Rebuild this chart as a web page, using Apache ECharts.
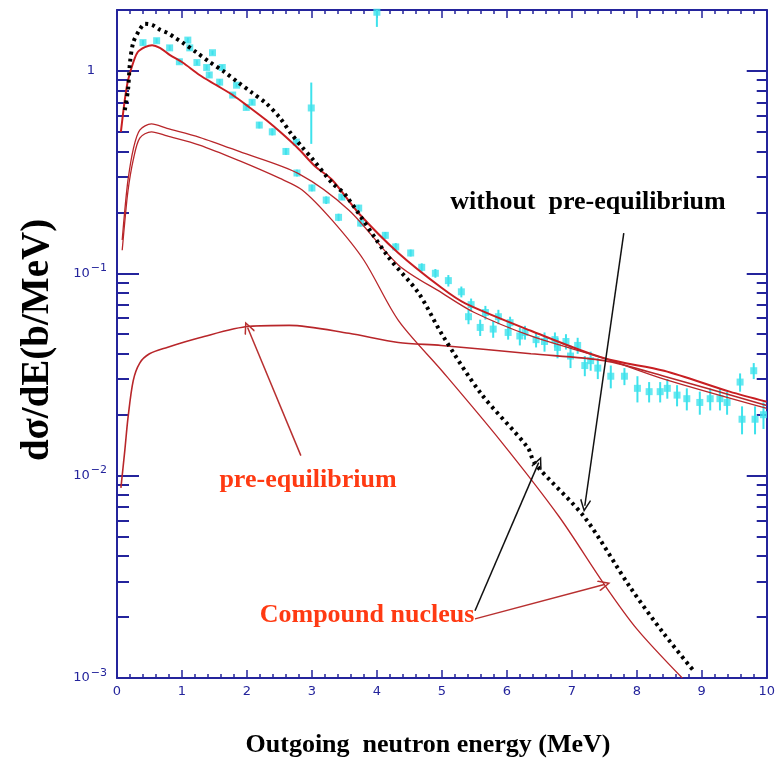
<!DOCTYPE html>
<html>
<head>
<meta charset="utf-8">
<script src="https://cdn.jsdelivr.net/npm/echarts@6/dist/echarts.min.js"></script>
<style>html,body{margin:0;background:#fff}#chart{width:778px;height:761px}</style>
</head>
<body>
<div id="chart"></div>
<script>
// measured cyan data (E in MeV, dsigma/dE in b/MeV, error)
const cyanE = [0.40,0.61,0.81,0.96,1.09,1.12,1.23,1.38,1.42,1.47,1.58,1.62,1.78,1.84,1.99,2.08,2.19,2.39,2.60,2.76,
  2.77,3.00,3.22,3.41,3.46,3.72,3.75,4.13,4.29,4.52,4.69,4.90,
  5.10,5.30,5.41,5.45,5.59,5.67,5.79,5.87,6.02,6.05,6.20,6.28,6.45,6.58,6.74,6.78,6.91,6.98,
  7.09,7.20,7.29,7.40,7.60,7.81,8.01,8.19,8.36,8.47,8.62,8.77,8.97,9.13,9.28,9.39,9.59,9.62,9.80,9.82,9.95,
  2.99,4.00];
const cyanV = [1.38,1.41,1.30,1.11,1.42,1.30,1.10,1.04,0.955,1.23,0.88,1.04,0.76,0.85,0.66,0.70,0.54,0.50,0.40,0.445,
  0.313,0.264,0.230,0.189,0.238,0.210,0.177,0.154,0.135,0.126,0.107,0.100,
  0.092,0.081,0.061,0.070,0.054,0.064,0.053,0.061,0.051,0.057,0.049,0.051,0.047,0.046,0.047,0.043,0.046,0.039,
  0.044,0.035,0.037,0.034,0.031,0.031,0.027,0.026,0.026,0.027,0.025,0.024,0.023,0.024,0.024,0.023,0.029,0.019,0.033,0.019,0.020,
  0.656,1.95];
const cyanErr = [0.04,0.04,0.04,0.03,0.04,0.04,0.03,0.03,0.03,0.03,0.03,0.03,0.02,0.02,0.02,0.02,0.02,0.02,0.015,0.015,
  0.012,0.01,0.01,0.008,0.008,0.008,0.007,0.006,0.006,0.005,0.005,0.005,
  0.006,0.005,0.005,0.005,0.005,0.005,0.005,0.005,0.004,0.004,0.005,0.004,0.004,0.005,0.004,0.005,0.004,0.005,
  0.004,0.004,0.004,0.004,0.004,0.003,0.004,0.003,0.003,0.003,0.003,0.003,0.003,0.003,0.003,0.003,0.003,0.003,0.003,0.003,0.003,
  0.22,0.3];

// calculation without pre-equilibrium (black dotted)
const noPreE = [0.12,0.17,0.20,0.25,0.34,0.43,0.54,0.66,0.78,0.89,1.01,1.23,1.42,1.65,1.88,2.08,2.30,2.50,2.68,2.85,3.00,3.31,3.52,4.18,4.64,5.00,5.60,6.32,6.43,7.20,7.90,8.42,8.88];
const noPreV = [0.64,0.81,1.10,1.38,1.58,1.71,1.69,1.60,1.54,1.46,1.38,1.23,1.11,0.99,0.87,0.78,0.69,0.59,0.49,0.42,0.37,0.28,0.243,0.12,0.08,0.05,0.0255,0.0138,0.0115,0.0062,0.0028,0.00165,0.00108];

// total calculation (red)
const totalE = [0.06,0.12,0.17,0.25,0.32,0.43,0.54,0.66,0.81,1.01,1.27,1.53,1.78,2.04,2.30,2.54,2.80,3.06,3.31,3.72,4.33,4.99,5.36,6.37,7.50,8.42,9.43,10];
const totalV = [0.50,0.72,0.90,1.10,1.24,1.31,1.34,1.30,1.20,1.10,0.955,0.85,0.76,0.66,0.57,0.49,0.41,0.335,0.29,0.198,0.126,0.085,0.071,0.052,0.038,0.033,0.026,0.0232];

// upper of the two lower curves
const sumE = [0.08,0.12,0.17,0.25,0.35,0.53,0.77,1.27,1.88,2.80,3.57,4.33,5.00,5.50,6.37,7.50,8.42,10];
const sumV = [0.146,0.205,0.29,0.41,0.51,0.547,0.52,0.47,0.40,0.31,0.205,0.11,0.080,0.064,0.049,0.038,0.030,0.0215];

// compound nucleus
const cnE = [0.08,0.12,0.17,0.25,0.35,0.53,0.77,1.27,1.88,2.50,2.85,3.31,3.80,4.33,5.00,5.90,6.80,7.50,8.00,8.70];
const cnV = [0.13,0.18,0.257,0.363,0.466,0.50,0.477,0.43,0.36,0.295,0.258,0.183,0.116,0.0585,0.033,0.0149,0.0063,0.0029,0.00175,0.001];

// pre-equilibrium
const preE = [0.06,0.12,0.17,0.25,0.35,0.50,0.77,1.27,2.04,2.65,3.57,4.33,4.99,6.37,7.50,8.42,10];
const preV = [0.0087,0.0133,0.0194,0.0295,0.036,0.040,0.043,0.048,0.0547,0.0553,0.0505,0.0455,0.044,0.040,0.037,0.031,0.0222];

// annotation arrows [from, to] in data coordinates
const blackArrows = [[[7.80,0.158],[7.20,0.0071]], [[5.51,0.00215],[6.49,0.0116]]];
const redArrows = [[[5.51,0.00196],[7.50,0.0029]], [[2.83,0.01256],[2.01,0.054]]];

const yMinor = [];
for (let d = -3; d <= 0; d++) for (let k = 2; k <= 9; k++) if (k * Math.pow(10, d) <= 2) yMinor.push(k * Math.pow(10, d));

const blue = '#24249c';
const cyan = '#3ee2ec';
const darkRed = '#b8262a';
const textRed = '#ff3a12';
const serif = '"Liberation Serif", "Times New Roman", serif';
const arrowHead = 'path://M5,0L10,9L9,10L5,2.6L1,10L0,9Z';

const zip = (a, b) => a.map((x, i) => [x, b[i]]);

const myChart = echarts.init(document.getElementById('chart'));

const xBase = {
  type: 'value', min: 0, max: 10, interval: 1,
  splitLine: { show: false },
  axisLine: { onZero: false, lineStyle: { color: blue, width: 2 } },
  axisTick: { inside: true, length: 8, lineStyle: { color: blue, width: 1.5 } },
  minorTick: { show: true, splitNumber: 5, length: 4, lineStyle: { color: blue, width: 1.5 } },
  minorSplitLine: { show: false }
};

const yLog = {
  type: 'log', logBase: 10, min: 0.001, max: 2,
  splitLine: { show: false },
  axisLine: { onZero: false, lineStyle: { color: blue, width: 2 } },
  axisTick: { inside: true, length: 22, lineStyle: { color: blue, width: 2 } }
};

const yMinorAxis = {
  type: 'value', min: -3, max: Math.log10(2),
  splitLine: { show: false },
  axisLine: { show: false, onZero: false },
  axisLabel: { show: false },
  axisTick: { inside: true, length: 12, customValues: yMinor.map(v => Math.log10(v)), lineStyle: { color: blue, width: 2 } }
};

const option = {
  animation: false,
  backgroundColor: '#fff',
  grid: { left: 117, right: 8, top: 10, bottom: 83 },
  xAxis: [
    Object.assign({}, xBase, {
      position: 'bottom',
      axisLabel: { color: blue, fontSize: 13, fontFamily: 'DejaVu Sans', margin: 7 }
    }),
    Object.assign({}, xBase, { position: 'top', axisLabel: { show: false } })
  ],
  yAxis: [
    Object.assign({}, yLog, {
      position: 'left',
      axisLabel: {
        color: blue, fontFamily: 'DejaVu Sans', margin: 10, showMaxLabel: false,
        formatter: v => {
          const e = Math.round(Math.log10(v));
          if (e === 0) return '{one|1}';
          return '{b|10}{s|\u2212' + (-e) + '}';
        },
        rich: {
          one: { fontSize: 13, color: blue, padding: [0, 12, 0, 0] },
          b: { fontSize: 13, color: blue },
          s: { fontSize: 11, color: blue, padding: [0, 0, 10, 1] }
        }
      }
    }),
    Object.assign({}, yLog, { position: 'right', axisLabel: { show: false }, axisTick: { inside: true, length: 20, lineStyle: { color: blue, width: 2 } } }),
    Object.assign({}, yMinorAxis, { position: 'left' }),
    Object.assign({}, yMinorAxis, { position: 'right', axisTick: Object.assign({}, yMinorAxis.axisTick, { length: 10 }) })
  ],
  series: [
    {
      name: 'errors', type: 'custom', clip: true,
      data: cyanE.map((e, i) => [e, cyanV[i] - cyanErr[i], cyanV[i] + cyanErr[i]]),
      renderItem: (params, api) => {
        const p1 = api.coord([api.value(0), api.value(1)]);
        const p2 = api.coord([api.value(0), api.value(2)]);
        return { type: 'line', shape: { x1: p1[0], y1: p1[1], x2: p2[0], y2: p2[1] }, style: { stroke: cyan, lineWidth: 2 } };
      },
      z: 2
    },
    {
      name: 'data', type: 'scatter', data: zip(cyanE, cyanV),
      symbol: 'rect', symbolSize: 7, itemStyle: { color: cyan }, clip: true, z: 2
    },
    {
      name: 'without pre-equilibrium', type: 'line', data: zip(noPreE, noPreV),
      showSymbol: false, smooth: 0.3,
      lineStyle: { color: '#000', width: 4, type: [3, 4] }, z: 4,
      markLine: {
        silent: true, symbol: ['none', arrowHead], symbolSize: [11, 13],
        label: { show: false },
        lineStyle: { color: '#111', width: 1.5, type: 'solid' },
        data: blackArrows.map(a => [{ coord: a[0] }, { coord: a[1] }])
      }
    },
    {
      name: 'total', type: 'line', data: zip(totalE, totalV),
      showSymbol: false, smooth: 0.3, lineStyle: { color: '#c81e22', width: 2 }, z: 3
    },
    {
      name: 'sum', type: 'line', data: zip(sumE, sumV),
      showSymbol: false, smooth: 0.3, lineStyle: { color: darkRed, width: 1.3 }, z: 3
    },
    {
      name: 'compound nucleus', type: 'line', data: zip(cnE, cnV),
      showSymbol: false, smooth: 0.3, lineStyle: { color: darkRed, width: 1.3 }, z: 3
    },
    {
      name: 'pre-equilibrium', type: 'line', data: zip(preE, preV),
      showSymbol: false, smooth: 0.3, lineStyle: { color: darkRed, width: 1.6 }, z: 3,
      markLine: {
        silent: true, symbol: ['none', arrowHead], symbolSize: [11, 13],
        label: { show: false },
        lineStyle: { color: '#b83030', width: 1.5, type: 'solid' },
        data: redArrows.map(a => [{ coord: a[0] }, { coord: a[1] }])
      }
    }
  ],
  graphic: [
    { type: 'text', x: 38, y: 340, rotation: Math.PI / 2,
      style: { text: 'd\u03c3/dE(b/MeV)', font: 'bold 39px ' + serif, fill: '#000', align: 'center', verticalAlign: 'middle' } },
    { type: 'text', x: 428, y: 745,
      style: { text: 'Outgoing  neutron energy (MeV)', font: 'bold 26px ' + serif, fill: '#000', align: 'center', verticalAlign: 'middle' } },
    { type: 'text', x: 588, y: 202,
      style: { text: 'without  pre-equilibrium', font: 'bold 26px ' + serif, fill: '#000', align: 'center', verticalAlign: 'middle' } },
    { type: 'text', x: 308, y: 480,
      style: { text: 'pre-equilibrium', font: 'bold 26px ' + serif, fill: textRed, align: 'center', verticalAlign: 'middle' } },
    { type: 'text', x: 367, y: 615,
      style: { text: 'Compound nucleus', font: 'bold 26px ' + serif, fill: textRed, align: 'center', verticalAlign: 'middle' } }
  ]
};
myChart.setOption(option);
</script>
</body>
</html>
